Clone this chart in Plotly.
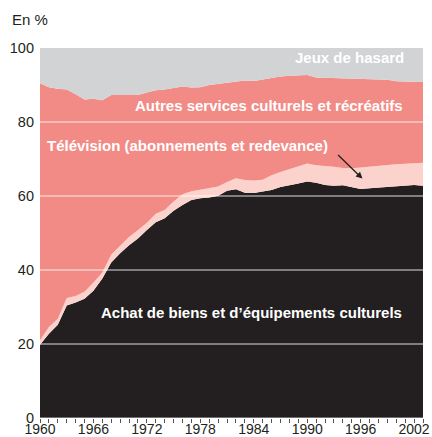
import plotly.graph_objects as go

years = list(range(1960, 2004))
achat = [19.8, 22.8, 25.2, 30.4, 31.2, 32.2, 34.4, 37.7, 42.0, 44.5, 46.7, 48.5, 50.8, 52.9, 54.0,
         56.0, 57.6, 58.9, 59.4, 59.6, 60.1, 61.4, 61.8, 60.9, 60.8, 61.2, 61.6, 62.4, 62.8, 63.4,
         63.9, 63.6, 63.0, 62.8, 62.9, 62.3, 61.9, 62.1, 62.3, 62.4, 62.7, 63.0, 63.0, 62.8]
television = [1.2, 1.8, 1.6, 2.0, 1.8, 1.9, 2.2, 1.6, 2.2, 2.0, 2.2, 2.3, 2.0, 2.3, 2.2,
              2.5, 2.9, 2.4, 2.4, 2.7, 2.5, 2.4, 3.0, 3.4, 3.4, 3.2, 4.0, 4.1, 4.4, 4.6,
              4.9, 4.7, 5.2, 5.1, 4.7, 5.2, 5.8, 5.9, 6.0, 6.0, 5.9, 5.8, 6.0, 6.2]
autres = [69.5, 64.8, 62.2, 56.4, 54.5, 52.0, 49.7, 46.6, 43.1, 40.8, 38.4, 36.5, 35.2, 33.4, 32.6,
          30.7, 29.1, 28.0, 27.6, 27.7, 27.7, 26.9, 26.3, 26.9, 26.9, 27.1, 26.5, 25.8, 25.3, 24.6,
          23.9, 23.7, 23.7, 24.0, 24.2, 24.3, 24.0, 23.6, 23.2, 23.0, 22.4, 22.1, 21.9, 21.8]
jeux = [9.5, 10.6, 11.0, 11.2, 12.5, 13.9, 13.7, 14.1, 12.7, 12.7, 12.7, 12.7, 12.0, 11.4, 11.2,
        10.8, 10.4, 10.7, 10.6, 10.0, 9.7, 9.3, 8.9, 8.8, 8.9, 8.5, 7.9, 7.7, 7.5, 7.4,
        7.3, 8.0, 8.1, 8.1, 8.2, 8.2, 8.3, 8.4, 8.5, 8.6, 9.0, 9.1, 9.1, 9.2]

series_names = ["Achat de biens et d\u2019\u00e9quipements culturels",
                "T\u00e9l\u00e9vision (abonnements et redevance)",
                "Autres services culturels et r\u00e9cr\u00e9atifs",
                "Jeux de hasard"]
colors = ["#231f20", "#fbd3cc", "#f28b86", "#d1d3d4"]
grid_vals = [0, 20, 40, 60, 80]

FONT = "Liberation Sans, Arial, Helvetica, sans-serif"

fig = go.Figure()
for name, vals, col in zip(series_names, [achat, television, autres, jeux], colors):
    fig.add_trace(go.Scatter(x=years, y=vals, name=name, stackgroup="one",
                             mode="lines", line=dict(width=0, color=col),
                             fillcolor=col, hoverinfo="skip"))

for g in grid_vals:
    fig.add_shape(type="line", xref="paper", x0=0, x1=1, yref="y", y0=g, y1=g,
                  line=dict(color="rgba(255,255,255,0.85)" if g else "#bdbdbd", width=1),
                  layer="above")

lab_font = dict(family=FONT, size=15, color="white")
fig.add_annotation(x=2001.1, y=97.5, text="<b>Jeux de hasard</b>", showarrow=False,
                   xanchor="right", yanchor="middle", font=lab_font)
fig.add_annotation(x=2001.0, y=84.4, text="<b>Autres services culturels et r\u00e9cr\u00e9atifs</b>",
                   showarrow=False, xanchor="right", yanchor="middle", font=lab_font)
fig.add_annotation(x=1960.56, y=73.7, text="<b>T\u00e9l\u00e9vision (abonnements et redevance)</b>",
                   showarrow=False, xanchor="left", yanchor="middle", font=lab_font)
fig.add_annotation(x=2000.9, y=28.4, text="<b>Achat de biens et d\u2019\u00e9quipements culturels</b>",
                   showarrow=False, xanchor="right", yanchor="middle", font=lab_font)
fig.add_annotation(x=1996.2, y=64.7, ax=1993.3, ay=71.5, axref="x", ayref="y",
                   xref="x", yref="y", text="", showarrow=True, arrowhead=2,
                   arrowsize=1, arrowwidth=1.3, arrowcolor="#231f20")
fig.add_annotation(xref="paper", yref="paper", x=-0.078, y=1.076, text="En %",
                   showarrow=False, xanchor="left", yanchor="middle",
                   font=dict(family=FONT, size=15, color="#231f20"))

tick_font = dict(family=FONT, size=14.5, color="#231f20")
fig.update_layout(
    width=432, height=437,
    margin=dict(l=40, r=9, t=48, b=19),
    paper_bgcolor="white", plot_bgcolor="white",
    showlegend=False,
    xaxis=dict(range=[1960, 2003], tick0=1960, dtick=6, ticks="outside", ticklen=4,
               tickcolor="#555555", tickwidth=1, showgrid=False, zeroline=False,
               showline=False, tickfont=dict(family=FONT, size=14, color="#231f20"),
               ticklabelstandoff=-6, automargin=False,
               minor=dict(dtick=1, tick0=1960, ticks="outside", ticklen=4,
                          tickcolor="#555555", tickwidth=1, showgrid=False)),
    yaxis=dict(range=[0, 100], tickvals=[0, 20, 40, 60, 80, 100], showgrid=False,
               zeroline=False, showline=False, ticks="", tickfont=tick_font,
               ticklabelstandoff=5, automargin=False),
)

fig.write_html("out.html", config={"displayModeBar": False, "staticPlot": True},
               post_script="document.body.style.margin='0';document.body.style.padding='0';"
                           "document.documentElement.style.overflow='hidden';")
